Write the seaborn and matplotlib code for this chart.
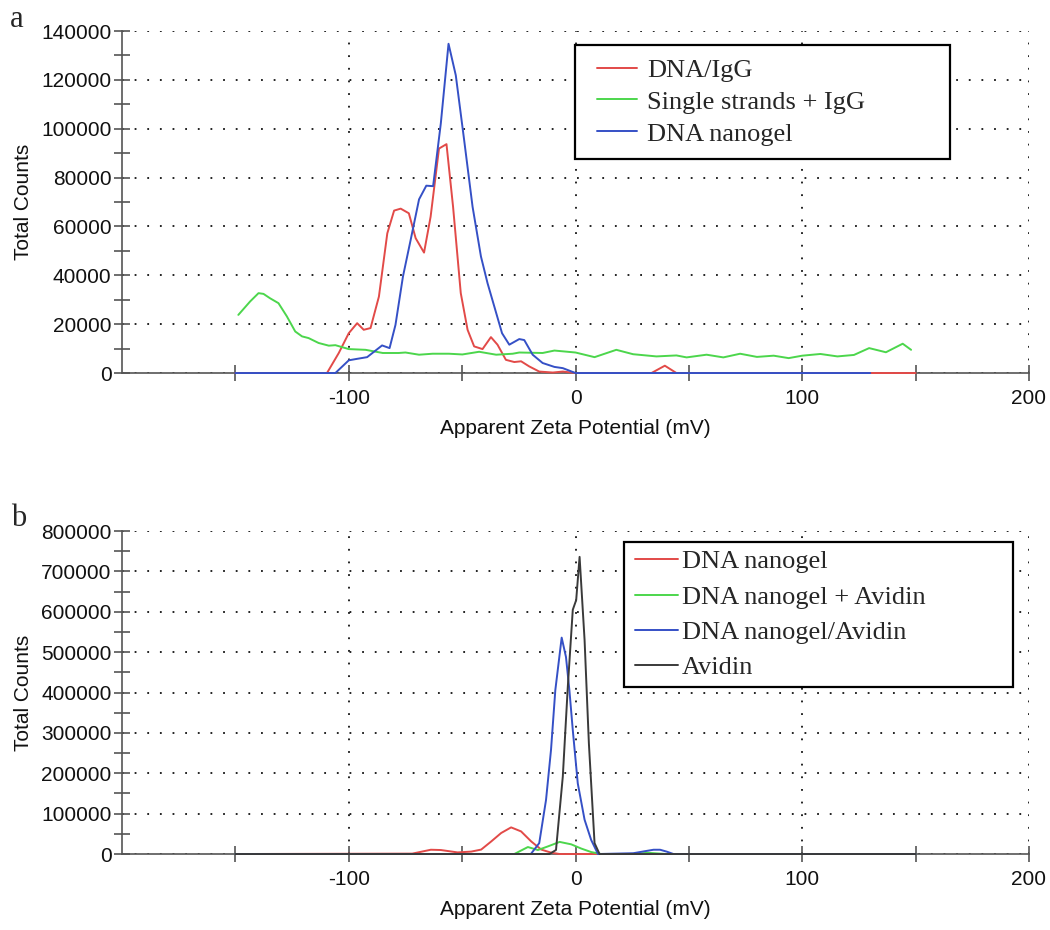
import matplotlib
matplotlib.use("Agg")
import matplotlib.pyplot as plt
from matplotlib.ticker import FixedLocator, MultipleLocator, NullFormatter
from matplotlib.legend_handler import HandlerLine2D
from matplotlib.lines import Line2D
import seaborn as sns
import pandas as pd

# ---------------- data (panel a) ----------------
red_a_x = [-150, -109.6, -104.4, -100, -96.3, -93.4, -90.4, -86.7, -83, -80, -77.1, -73.5,
           -70.5, -66.8, -63.9, -60.2, -56.9, -54, -50.6, -47.6, -44.7, -41, -37.3, -34.4,
           -30.7, -27, -24, -20.4, -16, -10, -5.6, 0, 33.5, 39.4, 44.5, 150]
red_a_y = [0, 0, 8200, 16300, 20400, 17700, 18400, 31300, 57200, 66500, 67300, 65400,
           55200, 49300, 64000, 91900, 93700, 68100, 32700, 17700, 10900, 9800, 14700, 11600,
           5400, 4500, 4800, 2700, 600, 200, 600, 0, 0, 3000, 0, 0]

green_a_x = [-148.7, -143.5, -139.8, -137.6, -134.7, -131, -127.3, -123.6, -120.6, -117.7,
             -113.3, -108.8, -105.9, -100, -92.6, -85, -78, -75, -69, -63, -55.8, -49.9,
             -42.5, -35, -27.7, -24.8, -14.5, -9.3, 0, 8.4, 18, 25.4, 35.7, 44.5, 49, 57.8,
             65.2, 72.6, 80, 87.4, 94, 100, 108, 115.5, 122.8, 129.5, 136.9, 144.3, 148]
green_a_y = [23800, 29300, 32700, 32400, 30600, 28600, 23200, 17000, 15000, 14300,
             12300, 11200, 11400, 9800, 9500, 8200, 8200, 8400, 7500, 7900, 7900, 7600,
             8700, 7500, 7900, 8400, 8200, 9200, 8400, 6500, 9500, 7700, 6800, 7200, 6400, 7500,
             6400, 7900, 6600, 7100, 6100, 7100, 7800, 6800, 7400, 10200, 8500, 12000, 9500]

blue_a_x = [-150, -105.9, -100, -97, -91.9, -85.3, -82, -79.4, -76.1, -72.7, -69, -65.8,
            -62.8, -59.4, -56, -52.8, -49.1, -45.4, -41.7, -38.8, -35.8, -32.4, -29.2, -24.8,
            -22.6, -18.9, -14.5, -9.3, -5.6, 0, 130]
blue_a_y = [0, 0, 5200, 5700, 6500, 11300, 10200, 19700, 39500, 54500, 71100, 76700,
            76500, 102200, 134800, 121900, 95300, 68100, 47700, 36800, 27200, 16300, 11600, 13900,
            13500, 7500, 4100, 2500, 2000, 0, 0]

labels_a = ["DNA/IgG", "Single strands + IgG", "DNA nanogel"]

# ---------------- data (panel b) ----------------
red_b_x = [-150, -72, -63.8, -59.4, -52, -46, -41.6, -37.2, -32.8, -28.4, -24, -19.5, -15.1,
           -10.7, -7, 150]
red_b_y = [0, 1000, 10600, 9900, 4000, 6000, 11000, 31000, 52000, 66000, 56000, 31000, 11000,
           3300, 0, 0]

green_b_x = [-150, -27, -21, -16.6, -12.2, -7, -1.9, 2.5, 6.9, 11.3, 25, 32, 40, 150]
green_b_y = [0, 0, 17300, 9900, 18800, 30000, 24000, 13600, 4900, 0, 0, 3000, 0, 0]

blue_b_x = [-150, -19.7, -16, -13, -10.8, -8.9, -6.1, -4.2, -2.7, -1.2, 1, 4, 6.9, 9.9,
            25.5, 30, 34.4, 37.3, 40.3, 43.2, 150]
blue_b_y = [0, 0, 27000, 134000, 258000, 406000, 536000, 488000, 406000, 307000, 175000,
            85000, 35000, 0, 2000, 6400, 10600, 10600, 5800, 0, 0]

black_b_x = [-150, -11.5, -8.6, -5.6, -3.4, -1.2, 0.3, 1.8, 4, 5.9, 8.4, 10.6, 150]
black_b_y = [0, 0, 10000, 192000, 414000, 605000, 629000, 736000, 530000, 274000, 27000, 0, 0]

labels_b = ["DNA nanogel", "DNA nanogel + Avidin", "DNA nanogel/Avidin", "Avidin"]

x_major = [-100, 0, 100, 200]
x_minor = [-150, -50, 50, 150]

# ---------------- style ----------------
sns.set_style("white")
plt.rcParams["font.family"] = ["Liberation Sans", "DejaVu Sans"]
plt.rcParams["axes.unicode_minus"] = False

RED = "#e24a48"
GREEN = "#4cd64c"
BLUE = "#3550c6"
BLACK = "#3a3a3a"
AXC = "#555555"

fig = plt.figure(figsize=(10.5, 9.3), dpi=100)
ax1 = fig.add_axes([0.1162, 0.5989, 0.8638, 0.3677])
ax2 = fig.add_axes([0.1162, 0.0817, 0.8638, 0.3473])


def style_axis(ax, ymax, ystep):
    ax.set_xlim(-200, 200)
    ax.set_ylim(0, ymax)
    for s in ["top", "right"]:
        ax.spines[s].set_visible(False)
    for s in ["left", "bottom"]:
        ax.spines[s].set_color(AXC)
        ax.spines[s].set_linewidth(1.2)
        ax.spines[s].set_zorder(1)
    ax.xaxis.set_major_locator(FixedLocator(x_major))
    ax.xaxis.set_minor_locator(FixedLocator(x_minor))
    ax.xaxis.set_minor_formatter(NullFormatter())
    ax.yaxis.set_major_locator(MultipleLocator(ystep))
    ax.yaxis.set_minor_locator(MultipleLocator(ystep / 2))
    ax.tick_params(axis="both", which="both", direction="inout", color=AXC, width=1.2,
                   labelsize=15, labelcolor="#111111", bottom=True, left=True)
    ax.tick_params(axis="x", which="both", length=11, pad=6)
    ax.tick_params(axis="y", which="both", length=11, pad=2)
    ax.grid(True, which="major", color="#111111", linestyle=(0, (1, 6)), linewidth=1.3)
    ax.set_axisbelow(True)
    ax.set_xlabel("Apparent Zeta Potential (mV)", fontsize=15, labelpad=8, color="#111111")
    ax.set_ylabel("Total Counts", fontsize=15, labelpad=6, color="#111111")


def draw(ax, xs, ys, color, label):
    df = pd.DataFrame({"x": xs, "y": ys})
    sns.lineplot(data=df, x="x", y="y", ax=ax, color=color, linewidth=1.4, label=label,
                 sort=False, estimator=None)
    ax.lines[-1].set_clip_on(False)
    ax.lines[-1].set_zorder(3)


draw(ax1, red_a_x, red_a_y, RED, labels_a[0])
draw(ax1, green_a_x, green_a_y, GREEN, labels_a[1])
draw(ax1, blue_a_x, blue_a_y, BLUE, labels_a[2])
style_axis(ax1, 140000, 20000)

draw(ax2, red_b_x, red_b_y, RED, labels_b[0])
draw(ax2, green_b_x, green_b_y, GREEN, labels_b[1])
draw(ax2, blue_b_x, blue_b_y, BLUE, labels_b[2])
draw(ax2, black_b_x, black_b_y, BLACK, labels_b[3])
style_axis(ax2, 800000, 100000)

serif = ["Liberation Serif", "DejaVu Serif"]

leg1 = ax1.legend(loc="upper left", bbox_to_anchor=(0.4995, 0.959, 0.413, 0.0), mode="expand",
                  borderaxespad=0, frameon=True, fancybox=False, edgecolor="black",
                  prop={"family": serif, "size": 19}, handlelength=1.86, handletextpad=0.38,
                  labelspacing=0.32, borderpad=0.5,
                  handler_map={Line2D: HandlerLine2D(xpad=0.34)})
leg1.get_frame().set_linewidth(1.6)
leg1.get_frame().set_alpha(1)

leg2 = ax2.legend(loc="upper left", bbox_to_anchor=(0.5535, 0.966, 0.429, 0.0), mode="expand",
                  borderaxespad=0, frameon=True, fancybox=False, edgecolor="black",
                  prop={"family": serif, "size": 19}, handlelength=1.74, handletextpad=0.15,
                  labelspacing=0.45, borderpad=0.3,
                  handler_map={Line2D: HandlerLine2D(xpad=0.1)})
leg2.get_frame().set_linewidth(1.6)
leg2.get_frame().set_alpha(1)

fig.text(0.0095, 0.979, "a", fontsize=22, family=serif, va="center", ha="left")
fig.text(0.0105, 0.443, "b", fontsize=22, family=serif, va="center", ha="left")

fig.savefig("out.png", dpi=100)
